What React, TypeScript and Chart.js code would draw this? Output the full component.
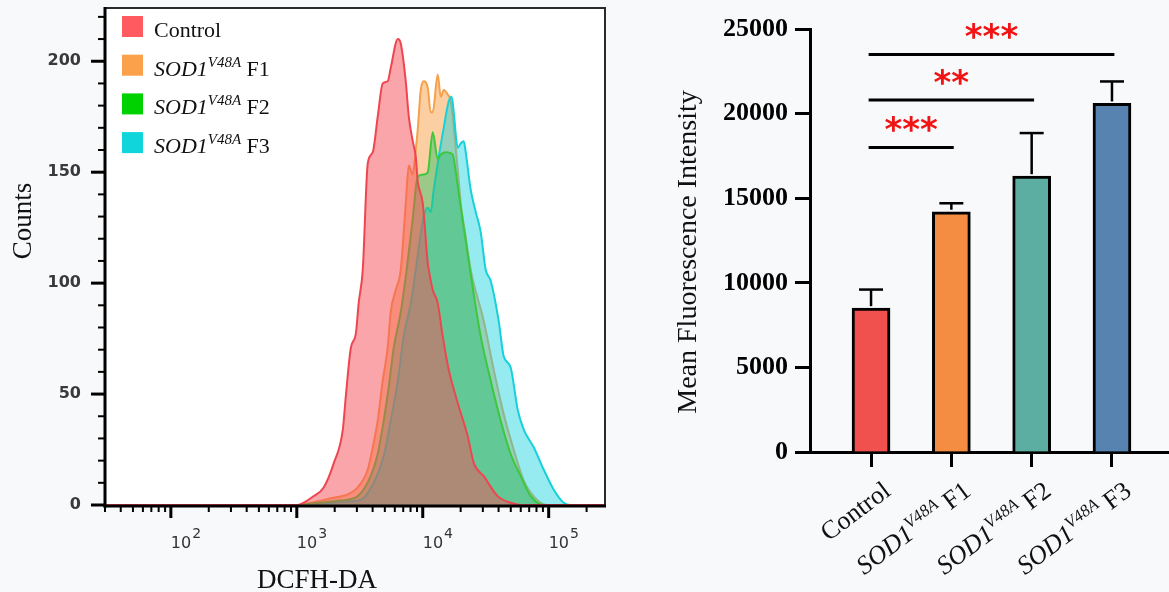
import React, { useEffect, useRef } from 'react';
import { Chart, registerables } from 'chart.js';
Chart.register(...registerables);

const PAGE_BG = '#f8f9fb';
const SERIF = '"Liberation Serif", "Times New Roman", serif';
const SANS = '"DejaVu Sans", sans-serif';

// ---------- shared naming ----------
const geneName = 'SOD1';
const alleleName = 'V48A';
const groupNames = ['Control', 'F1', 'F2', 'F3'];

// ---------- left panel: DCFH-DA histograms ----------
const controlFl = [30, 1000, 1360, 1640, 1970, 2320, 2450, 2690, 2940, 3100, 3340, 3660, 4010, 4390, 4810, 5270, 5570, 6340, 6690, 7330, 7750, 8330, 8800, 9120, 10000, 10960, 11170, 12000, 13150, 14410, 16080, 18960, 22760, 25410, 30480, 39360, 49890, 60000, 280000];
const controlCounts = [0, 0, 4, 8, 19, 34, 49, 71, 77, 91, 106, 154, 159, 175, 190, 191, 197, 210, 208, 191, 175, 164, 157, 146, 136, 109, 106, 97, 91, 76, 61, 46, 31, 19, 13, 4, 1, 0, 0];

const f1Fl = [30, 1000, 1290, 1860, 2590, 3050, 3660, 4010, 4390, 4810, 5270, 5570, 6110, 6690, 7330, 7750, 8330, 8800, 9120, 9640, 10180, 10960, 11570, 12000, 13150, 13900, 14680, 15790, 16680, 18960, 20040, 21940, 24040, 30480, 36590, 43940, 52720, 63400, 81820, 98170, 280000];
const f1Counts = [0, 0, 1, 3, 5, 8, 16, 26, 38, 56, 71, 87, 97, 106, 136, 153, 149, 160, 169, 187, 191, 188, 177, 177, 194, 184, 187, 185, 182, 151, 136, 121, 106, 83, 61, 41, 25, 11, 2, 0, 0];

const f2Fl = [30, 1000, 1470, 2230, 3050, 3860, 4390, 4900, 5370, 5890, 6690, 7450, 8330, 9120, 10180, 10960, 12000, 13150, 13900, 15430, 17300, 18300, 20040, 21940, 24940, 28860, 34660, 41560, 49890, 59960, 71940, 91250, 280000];
const f2Counts = [0, 0, 1, 2, 4, 13, 23, 38, 53, 71, 87, 106, 129, 148, 149, 150, 168, 156, 158, 159, 158, 150, 134, 119, 98, 76, 56, 38, 23, 13, 4, 0, 0];

const f3Fl = [30, 1000, 1470, 2230, 3220, 4080, 4900, 5570, 6340, 7060, 8040, 8800, 10180, 10960, 11570, 12220, 13400, 14680, 16080, 16980, 17620, 18960, 20040, 21150, 21940, 24040, 26360, 28860, 31620, 34660, 40090, 43940, 49890, 56720, 63400, 76060, 91250, 109500, 131500, 149600, 280000];
const f3Counts = [0, 0, 0.5, 1.4, 2.3, 10, 22, 38, 56, 76, 91, 106, 130, 134, 132, 142, 157, 170, 182, 184, 177, 161, 163, 164, 159, 142, 132, 123, 106, 101, 83, 67, 62, 43, 34, 26, 16, 7, 1, 0, 0];

const histLineColors = ['#ee4650', '#f5a04b', '#3cc83c', '#16d0da'];
const histFillColors = ['rgba(245,75,85,0.5)', 'rgba(250,160,70,0.5)', 'rgba(40,190,105,0.45)', 'rgba(20,210,220,0.45)'];
const histOrder = [0, 3, 1, 2];
const legendSwatchColors = ['#ff5a5f', '#fba04b', '#00d200', '#10d6dc'];

const xMin = 30;
const xMax = 280000;
const yMaxCounts = 224;
const yMajorTicks = [0, 50, 100, 150, 200];
const yMinorTicks = [10, 20, 30, 40, 60, 70, 80, 90, 110, 120, 130, 140, 160, 170, 180, 190, 210, 220];
const xDecadeTicks = [100, 1000, 10000, 100000];
const xDecadeExponents = ['2', '3', '4', '5'];
const xMinorMultipliers = [2, 3, 4, 5, 6, 7, 8, 9];
const leftXTitle = 'DCFH-DA';
const leftYTitle = 'Counts';

// ---------- right panel: mean fluorescence bars ----------
const barPositions = [0, 1, 2, 3];
const barMeans = [8500, 14200, 16300, 20600];
const barErrors = [1100, 500, 2550, 1300];
const barColors = ['#f0504e', '#f48c42', '#5daea2', '#5683b0'];
const barYTicks = [0, 5000, 10000, 15000, 20000, 25000];
const rightYTitle = 'Mean Fluorescence Intensity';
const sigFrom = [0, 0, 0];
const sigTo = [1, 2, 3];
const sigLevels = [18000, 20800, 23500];
const sigStars = ['***', '**', '***'];

type Seg = { t: string; font: string; dy?: number };

function groupSegs(name: string, size: number, supSize: number, raise: number): Seg[] {
  if (name === 'Control') return [{ t: name, font: `${size}px ${SERIF}` }];
  return [
    { t: geneName, font: `italic ${size}px ${SERIF}` },
    { t: alleleName, font: `italic ${supSize}px ${SERIF}`, dy: -raise },
    { t: ' ' + name, font: `${size}px ${SERIF}` },
  ];
}

function segsWidth(ctx: CanvasRenderingContext2D, segs: Seg[]) {
  let w = 0;
  for (const s of segs) {
    ctx.font = s.font;
    w += ctx.measureText(s.t).width;
  }
  return w;
}

function drawSegs(ctx: CanvasRenderingContext2D, segs: Seg[], x: number, y: number) {
  let cx = x;
  ctx.textAlign = 'left';
  ctx.textBaseline = 'alphabetic';
  for (const s of segs) {
    ctx.font = s.font;
    ctx.fillText(s.t, cx, y + (s.dy || 0));
    cx += ctx.measureText(s.t).width;
  }
}

function line(ctx: CanvasRenderingContext2D, x1: number, y1: number, x2: number, y2: number) {
  ctx.beginPath();
  ctx.moveTo(x1, y1);
  ctx.lineTo(x2, y2);
  ctx.stroke();
}

const leftDecor = {
  id: 'leftDecor',
  beforeDraw(chart: any) {
    const { ctx, chartArea: a, width, height } = chart;
    ctx.save();
    ctx.fillStyle = PAGE_BG;
    ctx.fillRect(0, 0, width, height);
    ctx.fillStyle = '#ffffff';
    ctx.fillRect(a.left, a.top, a.right - a.left, a.bottom - a.top);
    ctx.restore();
  },
  afterDatasetsDraw(chart: any) {
    const { ctx, chartArea: a } = chart;
    const xs = chart.scales.x;
    const ys = chart.scales.y;
    ctx.save();
    // frame
    ctx.strokeStyle = '#2a2a2a';
    ctx.lineWidth = 2;
    ctx.beginPath();
    ctx.moveTo(a.left, a.top);
    ctx.lineTo(a.right, a.top);
    ctx.lineTo(a.right, a.bottom);
    ctx.stroke();
    // axes
    ctx.strokeStyle = '#000';
    ctx.lineWidth = 3;
    line(ctx, a.left, a.top - 1, a.left, a.bottom + 2.5);
    line(ctx, a.left - 1.5, a.bottom + 1, a.right + 1, a.bottom + 1);
    // y ticks
    ctx.lineWidth = 3;
    for (const v of yMajorTicks) {
      const py = ys.getPixelForValue(v);
      line(ctx, a.left - 14, py, a.left, py);
    }
    ctx.lineWidth = 2;
    for (const v of yMinorTicks) {
      const py = ys.getPixelForValue(v);
      line(ctx, a.left - 7, py, a.left, py);
    }
    ctx.fillStyle = '#3a3a3a';
    ctx.font = `bold 16px ${SANS}`;
    ctx.textAlign = 'right';
    ctx.textBaseline = 'middle';
    for (const v of yMajorTicks) {
      ctx.fillText(String(v), a.left - 24, ys.getPixelForValue(v));
    }
    // x ticks
    const ax = a.bottom + 1;
    xDecadeTicks.forEach((d) => {
      ctx.lineWidth = 3;
      const px = xs.getPixelForValue(d);
      line(ctx, px, ax, px, ax + 12);
    });
    ctx.lineWidth = 2;
    [10, 100, 1000, 10000, 100000].forEach((d) => {
      for (const m of xMinorMultipliers) {
        const v = d * m;
        if (v < xMin || v > xMax) continue;
        const px = xs.getPixelForValue(v);
        line(ctx, px, ax, px, ax + 6);
      }
    });
    ctx.fillStyle = '#333';
    ctx.textAlign = 'left';
    ctx.textBaseline = 'alphabetic';
    xDecadeTicks.forEach((d, i) => {
      const px = xs.getPixelForValue(d);
      ctx.font = `16px ${SANS}`;
      ctx.fillText('10', px, 548);
      const w = ctx.measureText('10').width;
      ctx.font = `14px ${SANS}`;
      ctx.fillText(xDecadeExponents[i], px + w + 1, 538);
    });
    // titles
    ctx.fillStyle = '#111';
    ctx.font = `27px ${SERIF}`;
    ctx.textAlign = 'center';
    ctx.fillText(leftXTitle, 317, 588);
    ctx.save();
    ctx.translate(31, 221);
    ctx.rotate(-Math.PI / 2);
    ctx.fillText(leftYTitle, 0, 0);
    ctx.restore();
    // legend
    groupNames.forEach((name, i) => {
      const base = 37 + i * 38.7;
      ctx.fillStyle = legendSwatchColors[i];
      ctx.fillRect(122, base - 21, 21, 21);
      ctx.fillStyle = '#111';
      drawSegs(ctx, groupSegs(name, 22, 15, 9), 154, base);
    });
    ctx.restore();
  },
};

const rightDecor = {
  id: 'rightDecor',
  beforeDraw(chart: any) {
    const { ctx, width, height } = chart;
    ctx.save();
    ctx.fillStyle = PAGE_BG;
    ctx.fillRect(0, 0, width, height);
    ctx.restore();
  },
  afterDraw(chart: any) {
    const { ctx } = chart;
    const xs = chart.scales.x;
    const ys = chart.scales.y;
    ctx.save();
    // error bars
    ctx.strokeStyle = '#000';
    ctx.lineWidth = 2.5;
    barMeans.forEach((m, i) => {
      const px = xs.getPixelForValue(barPositions[i]);
      const top = ys.getPixelForValue(m + barErrors[i]);
      const base = ys.getPixelForValue(m) - 2;
      line(ctx, px, base, px, top);
      line(ctx, px - 12, top, px + 12, top);
    });
    // significance
    ctx.lineWidth = 3;
    sigLevels.forEach((lv, i) => {
      const x1 = xs.getPixelForValue(barPositions[sigFrom[i]] - 0.03);
      const x2 = xs.getPixelForValue(barPositions[sigTo[i]] + 0.03);
      const py = ys.getPixelForValue(lv);
      ctx.strokeStyle = '#000';
      line(ctx, x1, py, x2, py);
      ctx.fillStyle = '#f01414';
      ctx.font = `bold 34px ${SANS}`;
      ctx.textAlign = 'center';
      ctx.textBaseline = 'alphabetic';
      const mt = ctx.measureText(sigStars[i]);
      const cy = py - 23;
      const baseY = cy + (mt.actualBoundingBoxAscent - mt.actualBoundingBoxDescent) / 2;
      ctx.fillText(sigStars[i], (x1 + x2) / 2, baseY);
    });
    // x labels
    ctx.fillStyle = '#111';
    const axisY = ys.getPixelForValue(0);
    groupNames.forEach((name, i) => {
      const px = xs.getPixelForValue(barPositions[i]);
      const segs = groupSegs(name, 26, 17, 10);
      const w = segsWidth(ctx, segs);
      ctx.save();
      ctx.translate(px + 21, axisY + 42);
      ctx.rotate((-37 * Math.PI) / 180);
      drawSegs(ctx, segs, -w, 0);
      ctx.restore();
    });
    // y title
    ctx.save();
    ctx.translate(75.5, 252);
    ctx.rotate(-Math.PI / 2);
    ctx.font = `28px ${SERIF}`;
    ctx.textAlign = 'center';
    ctx.textBaseline = 'alphabetic';
    ctx.fillStyle = '#111';
    ctx.fillText(rightYTitle, 0, 0);
    ctx.restore();
    ctx.restore();
  },
};

function histDataset(label: string, fl: number[], counts: number[], i: number) {
  return {
    label,
    data: fl.map((v, k) => ({ x: v, y: counts[k] })),
    borderColor: histLineColors[i],
    backgroundColor: histFillColors[i],
    borderWidth: 2,
    pointRadius: 0,
    cubicInterpolationMode: 'monotone',
    fill: 'origin',
    order: histOrder[i],
  };
}

export default function App() {
  const leftRef = useRef<HTMLCanvasElement>(null);
  const rightRef = useRef<HTMLCanvasElement>(null);

  useEffect(() => {
    const left = new Chart(leftRef.current as HTMLCanvasElement, {
      type: 'line',
      data: {
        datasets: [
          histDataset('Control', controlFl, controlCounts, 0),
          histDataset('SOD1 V48A F1', f1Fl, f1Counts, 1),
          histDataset('SOD1 V48A F2', f2Fl, f2Counts, 2),
          histDataset('SOD1 V48A F3', f3Fl, f3Counts, 3),
        ],
      } as any,
      options: {
        responsive: false,
        animation: false,
        devicePixelRatio: 1,
        layout: { padding: { left: 105, top: 8, right: 15, bottom: 87 } },
        scales: {
          x: { type: 'logarithmic', min: xMin, max: xMax, display: false },
          y: { type: 'linear', min: 0, max: yMaxCounts, display: false },
        },
        plugins: { legend: { display: false }, tooltip: { enabled: false } },
      } as any,
      plugins: [leftDecor as any],
    });

    const right = new Chart(rightRef.current as HTMLCanvasElement, {
      type: 'bar',
      data: {
        datasets: [
          {
            label: 'Mean Fluorescence Intensity',
            data: barPositions.map((p, i) => ({ x: p, y: barMeans[i] })),
            backgroundColor: barColors,
            borderColor: '#000',
            borderWidth: 3,
            borderSkipped: 'start',
            barThickness: 38,
          },
        ],
      } as any,
      options: {
        responsive: false,
        animation: false,
        devicePixelRatio: 1,
        layout: { padding: { left: 0, top: 29, right: 0, bottom: 0 } },
        scales: {
          x: {
            type: 'linear',
            min: -0.76,
            max: 3.71,
            offset: false,
            z: 1,
            afterBuildTicks: (s: any) => {
              s.ticks = barPositions.map((v) => ({ value: v }));
            },
            ticks: { display: false },
            grid: { display: true, offset: false, drawOnChartArea: false, drawTicks: true, tickLength: 15, tickWidth: 3, tickColor: '#000' },
            border: { display: true, color: '#000', width: 3 },
            afterFit: (s: any) => {
              s.height = 140;
            },
          },
          y: {
            type: 'linear',
            min: 0,
            max: 25000,
            afterBuildTicks: (s: any) => {
              s.ticks = barYTicks.map((v) => ({ value: v }));
            },
            ticks: {
              color: '#000',
              padding: 7,
              font: { family: 'Liberation Serif', size: 26, weight: 'bold' },
              callback: (v: any) => String(v),
            },
            grid: { drawOnChartArea: false, tickLength: 15, tickWidth: 3, tickColor: '#000' },
            border: { color: '#000', width: 3 },
            afterFit: (s: any) => {
              s.width = 190;
            },
          },
        },
        plugins: { legend: { display: false }, tooltip: { enabled: false } },
      } as any,
      plugins: [rightDecor as any],
    });

    return () => {
      left.destroy();
      right.destroy();
    };
  }, []);

  return (
    <div style={{ position: 'fixed', left: 0, top: 0, width: 1169, height: 592, background: PAGE_BG, overflow: 'hidden' }}>
      <canvas ref={leftRef} width={620} height={592} style={{ position: 'absolute', left: 0, top: 0, width: 620, height: 592 }} />
      <canvas ref={rightRef} width={549} height={592} style={{ position: 'absolute', left: 620, top: 0, width: 549, height: 592 }} />
    </div>
  );
}
